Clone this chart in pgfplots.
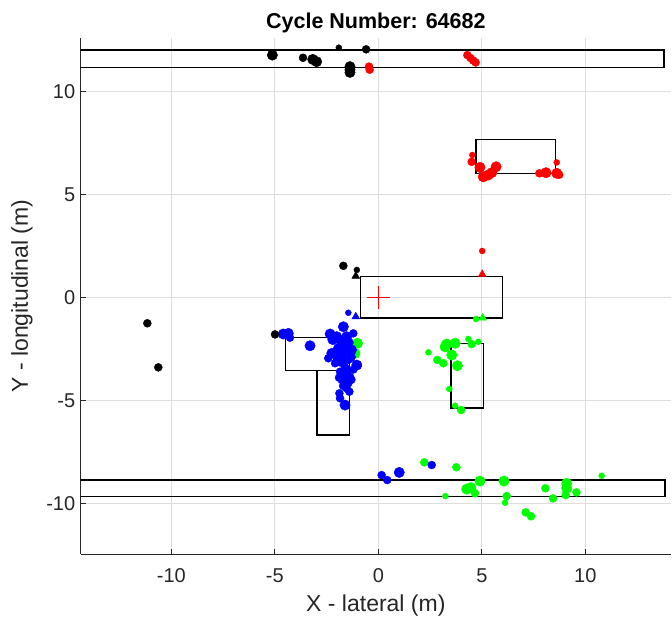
\documentclass[border=0pt]{standalone}
\usepackage{fontspec}
\setmainfont{Liberation Sans}
\usepackage{pgfplots}
\pgfplotsset{compat=1.18}
\definecolor{axgray}{rgb}{0.15,0.15,0.15}
\definecolor{gridgray}{rgb}{0.87,0.87,0.87}
\definecolor{mred}{rgb}{1,0,0}
\definecolor{mgreen}{rgb}{0,1,0}
\definecolor{mblue}{rgb}{0,0,1}
\begin{document}
\begin{tikzpicture}[x=1pt,y=1pt]
\useasboundingbox (-80.7,-69) rectangle (591.3,554);
\begin{axis}[
  scale only axis, width=590.3pt, height=516pt,
  xmin=-14.38, xmax=14.14, ymin=-12.46, ymax=12.59,
  axis x line*=bottom, axis y line*=left,
  axis line style={axgray, line width=0.9pt},
  xtick={-10,-5,0,5,10}, ytick={-10,-5,0,5,10},
  xticklabels={-10,-5,0,5,10}, yticklabels={-10,-5,0,5,10},
  tick align=inside, major tick length=5pt,
  tick style={axgray, line width=0.8pt},
  grid=major, major grid style={gridgray, line width=0.7pt},
  ticklabel style={font=\fontsize{20}{24}\selectfont, text=axgray},
  xticklabel style={yshift=-11pt},
  yticklabel style={xshift=-2pt},
  title={Cycle Number: 64682},
  title style={font=\fontsize{21.5}{24}\selectfont\bfseries, at={(axis description cs:0.5,1)}, anchor=south, yshift=-5pt},
  xlabel={X - lateral (m)},
  ylabel={Y - longitudinal (m)},
  label style={font=\fontsize{23}{26}\selectfont, text=axgray},
  xlabel style={at={(axis description cs:0.5,0)}, anchor=center, yshift=-52pt},
  ylabel style={at={(axis description cs:0,0.5)}, anchor=center, yshift=58.7pt},
  clip=true,
]
% rectangles
\addplot[black, line width=1.5pt, line join=miter] coordinates {(-20,11.15) (13.8,11.15) (13.8,12.0) (-20,12.0) (-20,11.15)};
\addplot[black, line width=1.5pt, line join=miter] coordinates {(-20,-9.68) (13.85,-9.68) (13.85,-8.87) (-20,-8.87) (-20,-9.68)};
\addplot[black, line width=1.5pt, line join=miter] coordinates {(-0.85,-1) (6,-1) (6,1) (-0.85,1) (-0.85,-1) (6,-1)};
\addplot[black, line width=1.5pt, line join=miter] coordinates {(4.72,6.02) (8.55,6.02) (8.55,7.67) (4.72,7.67) (4.72,6.02) (8.55,6.02)};
\addplot[black, line width=1.5pt, line join=miter] coordinates {(-4.49,-3.56) (-1.40,-3.56) (-1.40,-1.96) (-4.49,-1.96) (-4.49,-3.56) (-1.40,-3.56)};
\addplot[black, line width=1.5pt, line join=miter] coordinates {(-2.96,-6.68) (-1.40,-6.68) (-1.40,-3.56) (-2.96,-3.56) (-2.96,-6.68) (-1.40,-6.68)};
\addplot[black, line width=1.5pt, line join=miter] coordinates {(3.50,-5.37) (5.07,-5.37) (5.07,-2.23) (3.50,-2.23) (3.50,-5.37) (5.07,-5.37)};
% green
\addplot[only marks, mark=*, mark size=5.2pt, mark options={draw=mgreen, fill=mgreen}] coordinates {
(3.30,-2.27) (3.22,-2.40) (3.71,-2.23) (3.55,-2.80) (3.82,-3.32) (4.27,-9.31) (4.46,-9.24) (4.91,-8.92) (6.07,-8.92) (9.10,-9.03) (9.10,-9.27) (-1.01,-2.23) (-1.13,-2.72)};
\addplot[only marks, mark=*, mark size=4pt, mark options={draw=mgreen, fill=mgreen}] coordinates {
(2.85,-3.04) (3.14,-3.20) (4.51,-2.27) (4.0,-5.47) (2.22,-8.01) (3.77,-8.25) (4.67,-9.51) (6.20,-9.65) (7.12,-10.44) (7.38,-10.63) (8.07,-9.27) (8.44,-9.76) (9.05,-9.60) (9.57,-9.47)};
\addplot[only marks, mark=*, mark size=3pt, mark options={draw=mgreen, fill=mgreen}] coordinates {
(2.42,-2.67) (4.35,-2.02) (4.83,-2.16) (3.43,-4.45) (3.71,-5.26) (3.24,-9.65) (6.12,-9.97) (10.79,-8.66) (4.72,-1.05)};
\addplot[only marks, mark=triangle*, mark size=4.5pt, mark options={draw=mgreen, fill=mgreen}] coordinates {(5.04,-1.0)};
% blue
\addplot[only marks, mark=*, mark size=5.2pt, mark options={draw=mblue, fill=mblue}] coordinates {
(-4.59,-1.78) (-4.35,-1.75) (-3.30,-2.35) (-2.33,-1.78) (-2.01,-1.91) (-1.77,-2.16) (-1.53,-1.91) (-1.93,-2.48) (-1.61,-2.48) (-1.04,-3.29) (-1.61,-5.23) (-1.69,-1.43) (-2.25,-2.72) (-1.77,-3.13) (1.01,-8.50) (-2.20,-2.05) (-1.90,-2.75) (-1.45,-2.20) (-1.30,-2.55) (-1.75,-2.85) (-1.35,-2.90)};
\addplot[only marks, mark=*, mark size=4pt, mark options={draw=mblue, fill=mblue}] coordinates {
(-4.27,-1.96) (-2.42,-2.96) (-2.09,-3.20) (-1.45,-3.04) (-1.85,-3.61) (-1.61,-3.85) (-1.77,-4.01) (-1.37,-3.85) (-1.45,-4.17) (-1.53,-4.42) (-1.40,-4.58) (-1.88,-4.66) (-1.85,-4.90) (-1.21,-1.75) (0.16,-8.63) (0.43,-8.87) (2.58,-8.14) (-2.00,-3.00) (-1.60,-3.40) (-1.90,-3.90) (-1.50,-3.60) (-1.20,-3.50) (-1.70,-4.30) (-1.30,-4.00)};
\addplot[only marks, mark=*, mark size=3pt, mark options={draw=mblue, fill=mblue}] coordinates {(-1.45,-0.75)};
\addplot[only marks, mark=triangle*, mark size=4.5pt, mark options={draw=mblue, fill=mblue}] coordinates {(-1.09,-0.94)};
% red
\addplot[only marks, mark=*, mark size=5.2pt, mark options={draw=mred, fill=mred}] coordinates {
(4.91,6.31) (5.31,5.94) (5.69,6.34) (5.48,6.05) (5.07,5.85) (8.10,6.05) (8.62,6.02)};
\addplot[only marks, mark=*, mark size=4pt, mark options={draw=mred, fill=mred}] coordinates {
(4.51,6.58) (7.78,6.02) (8.74,5.95) (4.30,11.76) (4.45,11.62) (4.58,11.50) (4.70,11.40) (-0.45,11.20) (-0.42,11.05)};
\addplot[only marks, mark=*, mark size=3pt, mark options={draw=mred, fill=mred}] coordinates {
(4.54,6.91) (8.62,6.55) (5.02,2.25)};
\addplot[only marks, mark=triangle*, mark size=4.5pt, mark options={draw=mred, fill=mred}] coordinates {(5.02,1.12)};
% black
\addplot[only marks, mark=*, mark size=5.2pt, mark options={draw=black, fill=black}] coordinates {
(-5.12,11.76) (-3.17,11.55) (-2.98,11.44) (-1.37,11.20) (-1.37,11.05) (-1.37,10.92)};
\addplot[only marks, mark=*, mark size=4pt, mark options={draw=black, fill=black}] coordinates {
(-3.64,11.63) (-0.59,12.04) (-1.69,1.53) (-11.16,-1.26) (-10.63,-3.40) (-4.99,-1.80)};
\addplot[only marks, mark=*, mark size=3pt, mark options={draw=black, fill=black}] coordinates {
(-1.91,12.12) (-1.04,1.33)};
\addplot[only marks, mark=triangle*, mark size=4.5pt, mark options={draw=black, fill=black}] coordinates {(-1.09,1.03)};
% ego plus
\addplot[only marks, mark=+, mark size=11.5pt, mark options={draw=mred, line width=1.4pt}] coordinates {(0,0)};
\end{axis}
\end{tikzpicture}
\end{document}
